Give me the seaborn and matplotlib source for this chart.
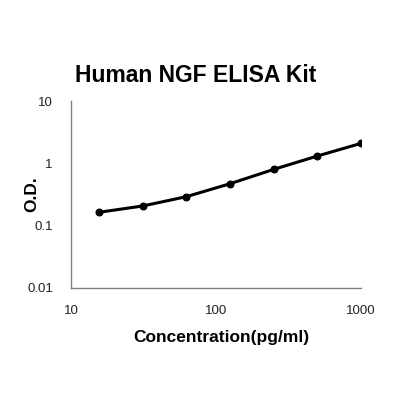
import matplotlib
matplotlib.use("Agg")
import matplotlib.pyplot as plt
import seaborn as sns
import pandas as pd
import numpy as np
from matplotlib.ticker import LogLocator, FixedLocator, FixedFormatter, NullFormatter

concentration = [15.625, 31.25, 62.5, 125, 250, 500, 1000]
od = [0.164, 0.207, 0.292, 0.471, 0.80, 1.31, 2.09]
x_ticks = [10, 100, 1000]
x_tick_labels = ["10", "100", "1000"]
y_ticks = [0.01, 0.1, 1, 10]
y_tick_labels = ["0.01", "0.1", "1", "10"]

sns.set_theme(style="white")
plt.rcParams['font.family'] = ['Liberation Sans', 'DejaVu Sans']

df = pd.DataFrame({"Concentration": concentration, "OD": od})

fig = plt.figure(figsize=(4, 4), dpi=100)
ax = fig.add_axes([0.1775, 0.28, 0.725, 0.4675])
sns.lineplot(data=df, x="Concentration", y="OD", ax=ax, color="black",
             linewidth=2.2, marker="o", markersize=5, markeredgecolor="black")
ax.set_xscale("log")
ax.set_yscale("log")
ax.set_xlim(10, 1000)
ax.set_ylim(0.01, 10)

ax.xaxis.set_major_locator(FixedLocator(x_ticks))
ax.xaxis.set_major_formatter(FixedFormatter(x_tick_labels))
ax.xaxis.set_minor_locator(LogLocator(base=10, subs=np.arange(2, 10)))
ax.xaxis.set_minor_formatter(NullFormatter())
ax.yaxis.set_major_locator(FixedLocator(y_ticks))
ax.yaxis.set_major_formatter(FixedFormatter(y_tick_labels))
ax.yaxis.set_minor_locator(LogLocator(base=10, subs=np.arange(2, 10)))
ax.yaxis.set_minor_formatter(NullFormatter())

gray = "#808080"
for side in ["top", "right"]:
    ax.spines[side].set_visible(False)
for side in ["left", "bottom"]:
    ax.spines[side].set_color(gray)
    ax.spines[side].set_linewidth(1.0)
ax.tick_params(which="both", direction="in", color=gray, width=0.8, length=3,
               labelsize=9.5, labelcolor="#222222")
ax.tick_params(axis="x", which="major", pad=12)
ax.tick_params(axis="y", which="major", pad=13)

ax.set_xlabel("Concentration(pg/ml)", fontsize=12.5, fontweight="bold", color="black")
ax.set_ylabel("O.D.", fontsize=12.5, fontweight="bold", color="black")
ax.xaxis.set_label_coords(0.52, -0.225)
ax.yaxis.set_label_coords(-0.11, 0.5)
fig.text(0.488, 0.812, "Human NGF ELISA Kit", ha="center", va="center",
         fontsize=16.5, fontweight="bold", color="black")

fig.savefig("out.png", dpi=100, facecolor="white")
